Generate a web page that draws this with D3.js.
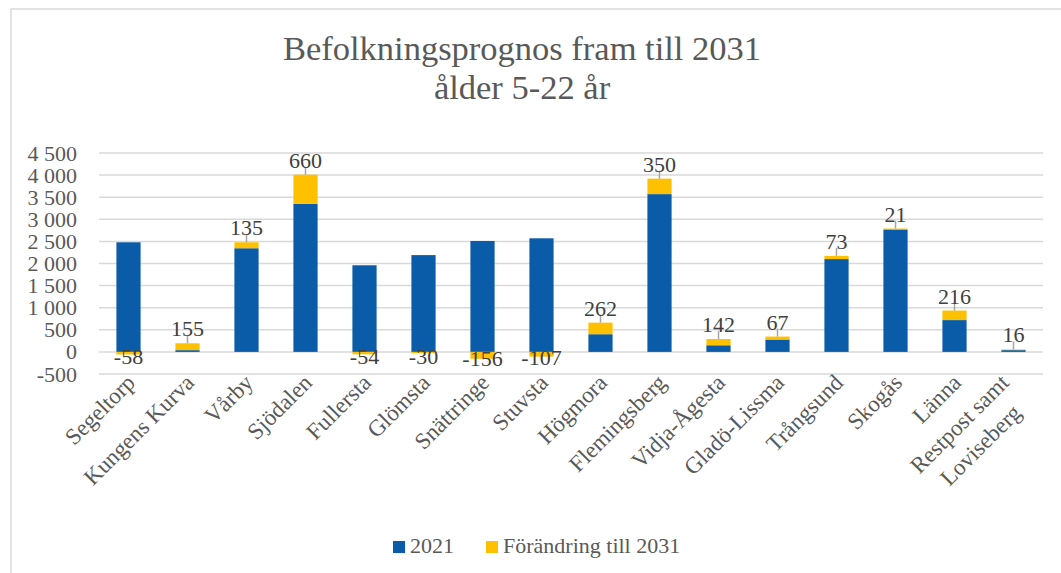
<!DOCTYPE html>
<html>
<head>
<meta charset="utf-8">
<script src="https://cdnjs.cloudflare.com/ajax/libs/d3/7.8.5/d3.min.js"></script>
<style>
    body { margin: 0; background: #fff; }
    text { font-family: "Liberation Serif", "Times New Roman", serif; }
</style>
</head>
<body>
<svg class="chart"></svg>
<script>
// data
var areas = ["Segeltorp", "Kungens Kurva", "Vårby", "Sjödalen", "Fullersta", "Glömsta",
    "Snättringe", "Stuvsta", "Högmora", "Flemingsberg", "Vidja-Ågesta", "Gladö-Lissma",
    "Trångsund", "Skogås", "Länna", "Restpost samt\nLoviseberg"];
var pop2021 = [2480, 40, 2345, 3350, 1960, 2190, 2510, 2570, 400, 3570, 150, 280, 2100, 2770, 720, 40];
var change = [-58, 155, 135, 660, -54, -30, -156, -107, 262, 350, 142, 67, 73, 21, 216, 16];
var yTicks = [-500, 0, 500, 1000, 1500, 2000, 2500, 3000, 3500, 4000, 4500];
var seriesNames = ["2021", "Förändring till 2031"];

function show() {

    'use strict';

    var W = 1061, H = 573;
    var margin = {top: 153, bottom: 199, right: 18, left: 99},
        width = W - margin.left - margin.right,
        height = H - margin.top - margin.bottom;

    var colors = ["#0a5ca8", "#ffc000"];

    var svg = d3.select(".chart")
        .attr("width", W)
        .attr("height", H);

    // chart area border (only top/left visible in the picture)
    svg.append("rect")
        .attr("x", 11).attr("y", 9)
        .attr("width", W + 20).attr("height", H + 20)
        .attr("fill", "none")
        .attr("stroke", "#d9d9d9")
        .attr("stroke-width", 1.5);

    // title
    var title = svg.append("text")
        .attr("x", 522)
        .attr("y", 60)
        .attr("text-anchor", "middle")
        .attr("fill", "#595959")
        .style("font-size", "34.5px");
    title.append("tspan").attr("x", 522).text("Befolkningsprognos fram till 2031");
    title.append("tspan").attr("x", 522).attr("dy", 39).text("ålder 5-22 år");

    var chart = svg.append("g")
        .attr("transform", "translate(" + margin.left + "," + margin.top + ")");

    var data = areas.map(function(a, i) {
        return {area: a, y2021: pop2021[i], change: change[i]};
    });

    var scaleX = d3.scaleBand()
        .domain(areas)
        .range([0, width])
        .paddingInner(0.59)
        .paddingOuter(0.295);

    var scaleY = d3.scaleLinear()
        .domain([d3.min(yTicks), d3.max(yTicks)])
        .range([height, 0]);

    // gridlines
    chart.append("g")
        .selectAll("line")
        .data(yTicks)
        .enter().append("line")
        .attr("x1", 0).attr("x2", width)
        .attr("y1", function(d) { return scaleY(d); })
        .attr("y2", function(d) { return scaleY(d); })
        .attr("stroke", "#d9d9d9")
        .attr("stroke-width", 1.5);

    // left axis labels
    var fmt = function(d) { return d3.format(",")(d).replace(/,/g, "\u00a0").replace("−", "-"); };
    var leftAxis = d3.axisLeft(scaleY).tickValues(yTicks).tickSize(0).tickPadding(22).tickFormat(fmt);
    var leftAxisG = chart.append("g").call(leftAxis);
    leftAxisG.select(".domain").remove();
    leftAxisG.selectAll(".tick text")
        .attr("fill", "#595959")
        .style("font-size", "22px")
        .style("font-family", "Liberation Serif, serif");

    // stacked bars, negatives below zero
    var stack = d3.stack().keys(["y2021", "change"]).offset(d3.stackOffsetDiverging);
    var series = stack(data);

    chart.selectAll("g.serie").data(series)
        .enter().append("g")
        .attr("class", "serie")
        .attr("fill", function(d, i) { return colors[i]; })
        .selectAll("rect")
        .data(function(d) { return d; })
        .enter().append("rect")
        .attr("x", function(d) { return scaleX(d.data.area); })
        .attr("y", function(d) { return scaleY(Math.max(d[0], d[1])); })
        .attr("height", function(d) { return Math.abs(scaleY(d[0]) - scaleY(d[1])); })
        .attr("width", scaleX.bandwidth());

    // data labels for the change
    var cx = function(d) { return scaleX(d.area) + scaleX.bandwidth() / 2; };
    var pos = data.filter(function(d) { return d.change >= 0; });
    var neg = data.filter(function(d) { return d.change < 0; });

    chart.append("g").selectAll("line")
        .data(pos)
        .enter().append("line")
        .attr("x1", cx).attr("x2", cx)
        .attr("y1", function(d) { return scaleY(d.y2021 + d.change); })
        .attr("y2", function(d) { return scaleY(d.y2021 + d.change) - 8; })
        .attr("stroke", "#a6a6a6")
        .attr("stroke-width", 1.5);

    chart.append("g").selectAll("text")
        .data(pos)
        .enter().append("text")
        .attr("x", cx)
        .attr("y", function(d) { return scaleY(d.y2021 + d.change) - 7; })
        .attr("text-anchor", "middle")
        .attr("fill", "#404040")
        .style("font-size", "22px")
        .text(function(d) { return d.change; });

    chart.append("g").selectAll("text")
        .data(neg)
        .enter().append("text")
        .attr("x", cx)
        .attr("y", function(d) { return scaleY(d.change / 2) + 11; })
        .attr("text-anchor", "middle")
        .attr("fill", "#404040")
        .style("font-size", "22px")
        .text(function(d) { return d.change; });

    // rotated category labels
    var catG = chart.append("g").selectAll("g")
        .data(areas)
        .enter().append("g")
        .attr("transform", function(d) {
            return "translate(" + (scaleX(d) + scaleX.bandwidth() / 2 + 8) + "," + (height + 10) + ") rotate(-45)";
        });

    catG.each(function(d) {
        var g = d3.select(this);
        var lines = d.split("\n");
        var txt = g.append("text")
            .attr("text-anchor", "end")
            .attr("fill", "#595959")
            .style("font-size", "23px");
        var spans = lines.map(function(l, i) {
            return txt.append("tspan").attr("x", 0).attr("y", i * 30).text(l);
        });
        var widths = spans.map(function(s) { return s.node().getComputedTextLength(); });
        var maxW = d3.max(widths);
        // multi-line blocks sit a bit further back along the text
        var back = (lines.length - 1) * 8;
        var up = (lines.length - 1) * 8;
        spans.forEach(function(s, i) {
            s.attr("x", -(maxW - widths[i]) / 2 - back)
             .attr("y", i * 30 - up);
        });
    });

    // legend
    var legend = svg.append("g");
    var legX = [393, 486];
    seriesNames.forEach(function(name, i) {
        legend.append("rect")
            .attr("x", legX[i]).attr("y", 541)
            .attr("width", 12).attr("height", 12)
            .attr("fill", colors[i]);
        legend.append("text")
            .attr("x", legX[i] + 17).attr("y", 553)
            .attr("fill", "#595959")
            .style("font-size", "22px")
            .text(name);
    });
}
show();
</script>
</body>
</html>
